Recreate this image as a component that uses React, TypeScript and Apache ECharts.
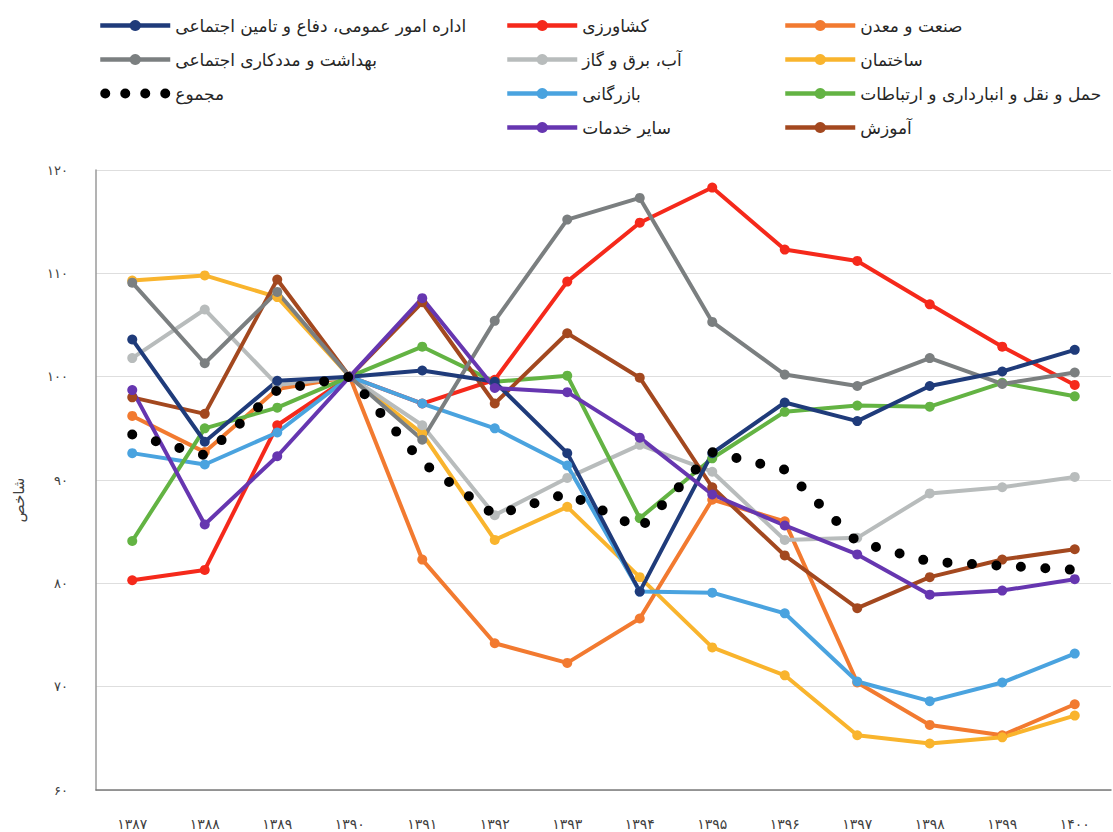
import React, { useEffect, useRef } from "react";
import * as echarts from "echarts";

const categories = ["۱۳۸۷", "۱۳۸۸", "۱۳۸۹", "۱۳۹۰", "۱۳۹۱", "۱۳۹۲", "۱۳۹۳", "۱۳۹۴", "۱۳۹۵", "۱۳۹۶", "۱۳۹۷", "۱۳۹۸", "۱۳۹۹", "۱۴۰۰"];

const agriculture = [80.3, 81.3, 95.3, 100, 97.4, 99.7, 109.2, 114.9, 118.3, 112.3, 111.2, 107.0, 102.9, 99.2];
const industry = [96.2, 92.7, 98.8, 100, 82.3, 74.2, 72.3, 76.6, 88.1, 86.0, 70.4, 66.3, 65.3, 68.3];
const utilities = [101.8, 106.5, 99.2, 100, 95.3, 86.6, 90.2, 93.4, 90.8, 84.2, 84.4, 88.7, 89.3, 90.3];
const construction = [109.3, 109.8, 107.7, 100, 94.5, 84.2, 87.4, 80.6, 73.8, 71.1, 65.3, 64.5, 65.1, 67.2];
const trade = [92.6, 91.5, 94.6, 100, 97.4, 95.0, 91.4, 79.2, 79.1, 77.1, 70.5, 68.6, 70.4, 73.2];
const transport = [84.1, 95.0, 97.0, 100, 102.9, 99.5, 100.1, 86.3, 92.1, 96.6, 97.2, 97.1, 99.4, 98.1];
const publicAdmin = [103.6, 93.7, 99.6, 100, 100.6, 99.5, 92.6, 79.2, 92.6, 97.5, 95.7, 99.1, 100.5, 102.6];
const education = [98.0, 96.4, 109.4, 100, 107.2, 97.4, 104.2, 99.9, 89.3, 82.7, 77.6, 80.6, 82.3, 83.3];
const health = [109.1, 101.3, 108.2, 100, 93.9, 105.4, 115.2, 117.3, 105.3, 100.2, 99.1, 101.8, 99.3, 100.4];
const otherServices = [98.7, 85.7, 92.3, 100, 107.6, 98.9, 98.5, 94.1, 88.6, 85.6, 82.8, 78.9, 79.3, 80.4];
const total = [94.4, 92.4, 98.7, 100, 91.7, 86.6, 88.7, 85.3, 92.7, 91.0, 84.0, 82.1, 81.7, 81.3];

const names = {
  publicAdmin: "اداره امور عمومی، دفاع و تامین اجتماعی",
  agriculture: "کشاورزی",
  industry: "صنعت و معدن",
  health: "بهداشت و مددکاری اجتماعی",
  utilities: "آب، برق و گاز",
  construction: "ساختمان",
  total: "مجموع",
  trade: "بازرگانی",
  transport: "حمل و نقل و انبارداری و ارتباطات",
  otherServices: "سایر خدمات",
  education: "آموزش",
};

const yAxisName = "شاخص";

const toFa = (s: string | number) => String(s).replace(/\d/g, (d) => "۰۱۲۳۴۵۶۷۸۹"[Number(d)]);

const FONT = "DejaVu Sans";

// four round dots, used as the legend icon of the dotted total line
const DOTS_ICON =
  "path://M0,5a5,5 0 1,0 10,0a5,5 0 1,0 -10,0Z" +
  "M20,5a5,5 0 1,0 10,0a5,5 0 1,0 -10,0Z" +
  "M40,5a5,5 0 1,0 10,0a5,5 0 1,0 -10,0Z" +
  "M60,5a5,5 0 1,0 10,0a5,5 0 1,0 -10,0Z";

function lineSeries(name: string, data: number[], color: string) {
  return {
    name,
    type: "line",
    data,
    symbol: "circle",
    symbolSize: 10,
    itemStyle: { color },
    lineStyle: { color, width: 4 },
    z: 3,
  };
}

export default function App() {
  const ref = useRef<HTMLDivElement>(null);

  useEffect(() => {
    if (!ref.current) return;
    const chart = echarts.init(ref.current, undefined, { renderer: "svg" });

    const legendCommon = {
      orient: "vertical",
      top: 17,
      padding: 0,
      itemWidth: 70,
      itemHeight: 14,
      itemGap: 17,
      align: "left",
      lineStyle: { width: 4.5 },
      textStyle: { fontFamily: FONT, fontSize: 17, color: "#262626" },
    };

    chart.setOption({
      animation: false,
      backgroundColor: "#ffffff",
      textStyle: { fontFamily: FONT },
      legend: [
        {
          ...legendCommon,
          left: 98,
          data: [
            names.publicAdmin,
            names.health,
            { name: names.total, icon: DOTS_ICON, itemStyle: { color: "#000000" } },
          ],
        },
        { ...legendCommon, left: 505, data: [names.agriculture, names.utilities, names.trade, names.otherServices] },
        { ...legendCommon, left: 783, data: [names.industry, names.construction, names.transport, names.education] },
      ],
      grid: { left: 96, right: 2, top: 170, bottom: 42 },
      xAxis: {
        type: "category",
        data: categories,
        boundaryGap: true,
        axisLine: { lineStyle: { color: "#7a7a7a", width: 1.5 } },
        axisTick: { show: false },
        axisLabel: { margin: 27, fontSize: 14, color: "#404040", fontFamily: FONT },
        splitLine: { show: false },
      },
      yAxis: {
        type: "value",
        min: 60,
        max: 120,
        interval: 10,
        axisLine: { show: true, lineStyle: { color: "#9a9a9a", width: 1.5 } },
        axisTick: { show: false },
        axisLabel: { margin: 28, fontSize: 13, color: "#404040", fontFamily: FONT, formatter: (v: number) => toFa(v) },
        splitLine: { lineStyle: { color: "#dedede", width: 1 } },
      },
      graphic: [
        {
          type: "text",
          x: 19,
          y: 500,
          rotation: Math.PI / 2,
          style: {
            text: yAxisName,
            fontFamily: FONT,
            fontSize: 15,
            fill: "#404040",
            align: "center",
            verticalAlign: "middle",
          },
        },
      ],
      series: [
        lineSeries(names.agriculture, agriculture, "#f5291b"),
        lineSeries(names.industry, industry, "#f27a30"),
        lineSeries(names.construction, construction, "#f9b42d"),
        lineSeries(names.utilities, utilities, "#b8bcbc"),
        lineSeries(names.trade, trade, "#4aa3df"),
        lineSeries(names.transport, transport, "#63b343"),
        lineSeries(names.education, education, "#a3481f"),
        lineSeries(names.health, health, "#7b7f80"),
        {
          name: names.total,
          type: "line",
          data: total,
          symbol: "none",
          itemStyle: { color: "#000000" },
          lineStyle: { color: "#000000", width: 10, type: [0, 24.5], cap: "round" },
          z: 4,
        },
        lineSeries(names.publicAdmin, publicAdmin, "#1f3b7a"),
        lineSeries(names.otherServices, otherServices, "#6636b0"),
      ],
    });

    return () => chart.dispose();
  }, []);

  return (
    <div
      ref={ref}
      style={{ position: "fixed", left: 0, top: 0, width: 1113, height: 832, background: "#fff" }}
    />
  );
}
